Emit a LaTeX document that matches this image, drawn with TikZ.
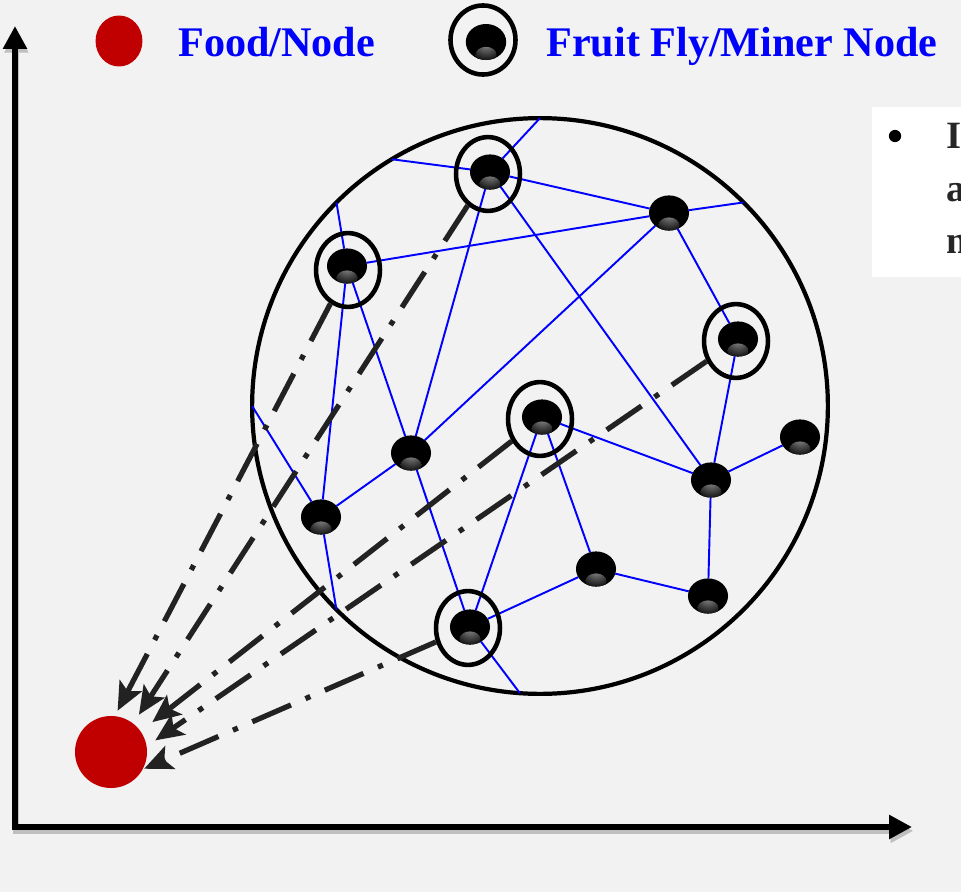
\documentclass[tikz,border=0pt]{standalone}
\usepackage{fontspec}
\setmainfont{Liberation Serif}
\usetikzlibrary{shapes.geometric,arrows.meta}
\definecolor{foodred}{RGB}{192,0,0}
\definecolor{bggray}{RGB}{242,242,242}
\definecolor{legendblue}{RGB}{0,0,255}
\definecolor{trailgray}{RGB}{34,34,34}

\begin{document}
\begin{tikzpicture}[x=0.02cm, y=-0.02cm, line join=miter]
  \tikzstyle{fly}=[ellipse, fill=black, minimum width=22.8pt, minimum height=20pt, inner sep=0pt, outer sep=0pt,
    path picture={\shade[inner color=black!45, outer color=black] ([yshift=3pt]path picture bounding box.south) ellipse (6pt and 4.5pt);}]
  \tikzstyle{ring}=[ellipse, draw, line width=2.6pt, minimum width=36.4pt, minimum height=42pt, inner sep=0pt]
  \tikzstyle{link}=[legendblue, line width=1.1pt]
  \tikzstyle{trail}=[trailgray, line width=3pt, dash pattern=on 24pt off 9pt on 3pt off 9pt,
    -{Stealth[length=16pt,width=14pt,inset=3.5pt,sep=0pt]}]
  \tikzstyle{axisline}=[line width=3.4pt, {Triangle[length=13pt,width=13pt]}-{Triangle[length=13pt,width=13pt]}]
  \tikzstyle{annot}=[text=legendblue, font=\bfseries\fontsize{24}{28}\selectfont, anchor=base west, inner sep=0pt]
  \tikzstyle{note}=[text=black!85, font=\bfseries\fontsize{22}{30}\selectfont, anchor=base west, inner sep=0pt]

  \useasboundingbox[fill=bggray] (0,0) rectangle (961,892);
  \clip (0,0) rectangle (961,892);

  % text box on the right
  \fill[white] (872,107) rectangle (975,277);
  \node[circle, fill=black, minimum size=7pt, inner sep=0pt] (dot) at (895,136) {};
  \node[note] (l1) at (946,149) {I};
  \node[note] (l2) at (946,202) {a};
  \node[note] (l3) at (946,254) {m};

  % swarm
  \node[circle, draw, line width=2.4pt, minimum size=327.7pt, inner sep=0pt, outer sep=0pt] (swarm) at (540,406) {};

  \foreach \n/\x/\y in {1/490/172, 2/347/266, 3/669/213, 4/738/339, 5/542/417, 6/411/453,
                        7/800/437, 8/321/517, 9/711/480, 10/596/569, 11/708/596, 12/470/627}
    \node[fly] (n\n) at (\x,\y) {};

  \foreach \a/\b in {n1/swarm.90, swarm.121/n1, n1/n3, n1/n9, n1/n6, n2/swarm.135, n2/n3, n2/n8, n2/n6,
                     n3/swarm.45, n3/n6, n3/n4, n4/n9, n5/n9, n9/n7, n9/n11, n5/n10, n5/n12, n10/n11,
                     n12/n10, n12/swarm.266, n6/n12, swarm.180/n8, n8/n6, n8/swarm.225}
    \draw[link] (\a) -- (\b);

  \foreach \r/\x/\y in {1/488/174, 2/348/270, 4/736/341, 5/540/419, 12/468/628}
    \node[ring] (r\r) at (\x,\y) {};

  % food and trails
  \node[circle, fill=foodred, minimum size=41pt, inner sep=0pt, outer sep=0pt] (food) at (111,752) {};
  \draw[trail, shorten >=3.5pt] (r2) -- (food.84);
  \draw[trail, shorten >=6pt] (r1) -- (food.52);
  \draw[trail, shorten >=8.5pt] (r5) -- (food.35);
  \draw[trail, shorten >=6pt] (r4) -- (food.9);
  \draw[trail, shorten >=1pt] (r12) -- (food.-29);

  % axes
  \coordinate (o) at (15,827);
  \coordinate (ytip) at (15,26);
  \coordinate (xtip) at (912,827);
  \draw[axisline, black!25, transform canvas={shift={(0.8pt,-2.2pt)}}] (ytip) -- (o) -- (xtip);
  \draw[axisline] (ytip) -- (o) -- (xtip);

  % legend
  \node[ellipse, fill=foodred, minimum width=26.7pt, minimum height=29pt, inner sep=0pt] (kfood) at (119,41) {};
  \node[annot] (tfood) at (178,57) {Food/Node};
  \node[ring, minimum width=37pt, minimum height=39.3pt] (kring) at (483,40) {};
  \node[fly, minimum width=23pt, minimum height=20.5pt] (kfly) at (486,42) {};
  \node[annot] (tfly) at (546,57) {Fruit Fly/Miner Node};
\end{tikzpicture}
\end{document}
